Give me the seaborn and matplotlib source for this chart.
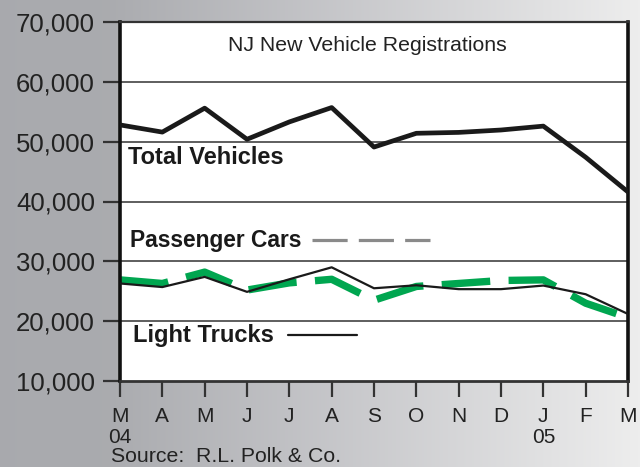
import numpy as np
import pandas as pd
import matplotlib
matplotlib.use("Agg")
import matplotlib.pyplot as plt
import seaborn as sns

months = ["M", "A", "M", "J", "J", "A", "S", "O", "N", "D", "J", "F", "M"]
tick_labels = ["M\n04", "A", "M", "J", "J", "A", "S", "O", "N", "D", "J\n05", "F", "M"]
total_vehicles = [52800, 51600, 55600, 50400, 53300, 55700, 49100, 51400, 51550, 51950, 52600, 47400, 41600]
passenger_cars = [26900, 26300, 28200, 25200, 26400, 27000, 23500, 25800, 26300, 26800, 26900, 23000, 20600]
light_trucks = [26300, 25700, 27400, 24900, 27000, 29000, 25500, 26000, 25350, 25350, 25950, 24500, 21200]
y_ticks = [10000, 20000, 30000, 40000, 50000, 60000, 70000]

sns.set_style("white")
plt.rcParams['font.family'] = ['Liberation Sans', 'DejaVu Sans']

df = pd.DataFrame({
    "idx": np.arange(len(months)),
    "Total Vehicles": total_vehicles,
    "Passenger Cars": passenger_cars,
    "Light Trucks": light_trucks,
})

fig = plt.figure(figsize=(6.4, 4.67), dpi=100)

# background gradient
bg = fig.add_axes([0, 0, 1, 1], zorder=-10)
xs = np.linspace(0, 1, 640)
stops = [0, 0.17, 0.5, 1.0]
r = np.interp(xs, stops, [0.662, 0.667, 0.77, 0.93])
g = np.interp(xs, stops, [0.666, 0.671, 0.772, 0.93])
b = np.interp(xs, stops, [0.682, 0.686, 0.785, 0.93])
grad = np.dstack([np.tile(r, (10, 1)), np.tile(g, (10, 1)), np.tile(b, (10, 1))])
bg.imshow(grad, aspect="auto", extent=[0, 1, 0, 1])
bg.set_axis_off()

ax = fig.add_axes([120/640, 1-381/467, 508/640, 359/467])
ax.set_facecolor("white")

sns.lineplot(data=df, x="idx", y="Light Trucks", ax=ax, color="#1a1a1a", lw=1.6, zorder=3)
sns.lineplot(data=df, x="idx", y="Passenger Cars", ax=ax, color="#00a650", lw=5.3, zorder=2)
ax.lines[-1].set_dashes((6.6, 2.5))
sns.lineplot(data=df, x="idx", y="Total Vehicles", ax=ax, color="#1a1a1a", lw=3.4, zorder=4)

ax.set_xlim(0, 12)
ax.set_ylim(10000, 70000)
ax.set_yticks(y_ticks)
ax.set_yticklabels([f"{v:,}" for v in y_ticks], fontsize=18.5, color="#222222")
ax.set_xticks(range(len(months)))
ax.set_xticklabels(tick_labels, fontsize=15, color="#222222", linespacing=1.15)
ax.set_xlabel("")
ax.set_ylabel("")
ax.tick_params(axis="y", length=12, width=1.6, color="#333333", pad=6, left=True)
ax.tick_params(axis="x", length=11.5, width=1.6, color="#333333", pad=7, bottom=True)

for v in y_ticks[1:-1]:
    ax.axhline(v, color="#333333", lw=1.1, zorder=1)

for side, lw, c in [("left", 2.6, "#111111"), ("right", 2.6, "#111111"),
                    ("bottom", 2.0, "#333333"), ("top", 1.6, "#333333")]:
    ax.spines[side].set_visible(True)
    ax.spines[side].set_linewidth(lw)
    ax.spines[side].set_color(c)

ax.text(0.486, 0.935, "NJ New Vehicle Registrations", transform=ax.transAxes,
        ha="center", va="center", fontsize=15.3, color="#222222")
lab_kw = dict(transform=ax.transAxes, ha="left", va="center",
              fontweight="bold", color="#1a1a1a")
ax.text(8/508, 0.622, "Total Vehicles", fontsize=17, **lab_kw)
ax.text(10/508, 0.392, "Passenger Cars", fontsize=16.4, **lab_kw)
ax.text(13/508, 0.127, "Light Trucks", fontsize=17, **lab_kw)

# legend keys
ax.plot([192/508, 310/508], [0.392, 0.392], transform=ax.transAxes,
        color="#8a8a8a", lw=2.3, dashes=(11, 3.5), solid_capstyle="butt")
ax.plot([168/508, 237/508], [0.127, 0.127], transform=ax.transAxes,
        color="#1a1a1a", lw=1.6)

fig.text(111/640, 1-462/467, "Source:  R.L. Polk & Co.", ha="left", va="baseline",
         fontsize=15.3, color="#222222")

fig.savefig("out.png", dpi=100)
